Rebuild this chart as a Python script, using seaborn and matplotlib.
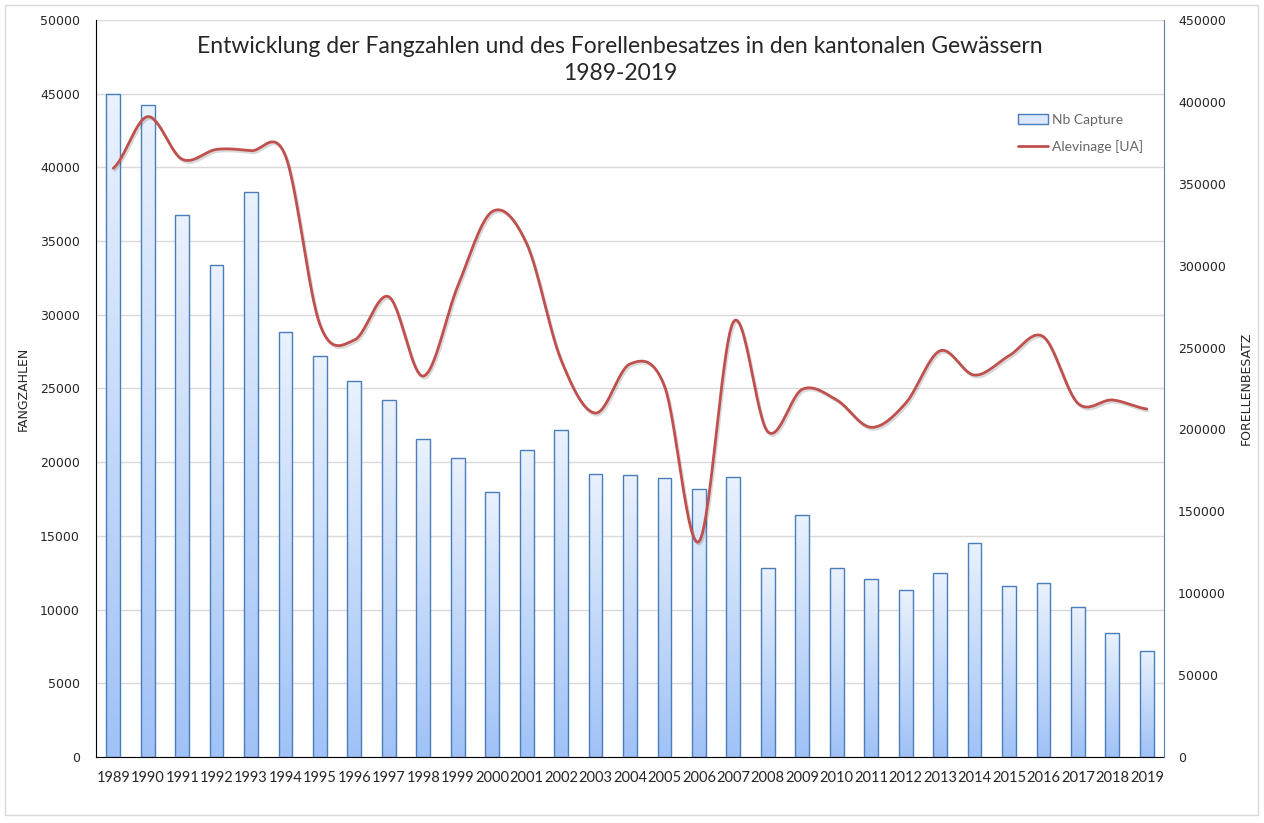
import seaborn as sns
import matplotlib.pyplot as plt
import matplotlib.patheffects as pe
from matplotlib.patches import Patch, Rectangle
from matplotlib.lines import Line2D
import numpy as np
import pandas as pd

years = [str(y) for y in range(1989, 2020)]
nb_capture = [45000, 44200, 36750, 33400, 38350, 28850, 27200, 25500, 24200, 21550,
              20300, 18000, 20850, 22200, 19200, 19100, 18900, 18150, 19000, 12800,
              16450, 12800, 12050, 11300, 12450, 14550, 11600, 11800, 10150, 8400, 7200]
alevinage = [359500, 391000, 365000, 371000, 370200, 367000, 264000, 254600, 281000, 232600,
             287500, 333000, 313500, 242400, 210000, 240000, 226500, 131500, 265600, 198600,
             224500, 218000, 201300, 216000, 248000, 233200, 245000, 256600, 216000, 218000, 212500]

df = pd.DataFrame({'Jahr': years, 'Nb Capture': nb_capture, 'Alevinage [UA]': alevinage})

sns.set_style('white')
plt.rcParams['font.family'] = ['DejaVu Sans']

fig = plt.figure(figsize=(12.64, 8.23), dpi=100)
ax = fig.add_axes([96 / 1264, 1 - 757 / 823, (1164 - 96) / 1264, (757 - 20) / 823])

# bars
sns.barplot(data=df, x='Jahr', y='Nb Capture', ax=ax, width=0.4, color='#DCE8FB',
            edgecolor='#4A7EBB', linewidth=1.0, zorder=3)
ax.set_ylim(0, 50000)
ax.set_xlim(-0.5, 30.5)
ax.set_yticks(range(0, 50001, 5000))
ax.grid(axis='y', color='#D9D9D9', linewidth=1.0, zorder=0)
ax.set_axisbelow(True)

# per-bar vertical gradient (light top -> blue bottom)
grad = np.linspace(0, 1, 256).reshape(-1, 1)
cmap = sns.blend_palette(['#A0C2F7', '#EAF2FD'], as_cmap=True)
for p in ax.patches:
    x0, y0 = p.get_x(), p.get_y()
    w, h = p.get_width(), p.get_height()
    im = ax.imshow(grad, extent=[x0, x0 + w, y0, y0 + h], origin='lower', cmap=cmap,
                   aspect='auto', zorder=2.5)
    im.set_clip_path(p)
    p.set_facecolor('none')
ax.set_xlim(-0.5, 30.5)
ax.set_ylim(0, 50000)

ax.set_xlabel('')
ax.set_ylabel('FANGZAHLEN', fontsize=9)
ax.yaxis.set_label_coords((30 - 96) / 1068, 0.5)
ax.tick_params(axis='y', length=0, labelsize=9, pad=11.5)
ax.tick_params(axis='x', length=0, pad=10)
for lab in ax.get_xticklabels():
    lab.set_fontfamily('Lato')
    lab.set_fontsize(10.5)
for s in ['top', 'right']:
    ax.spines[s].set_visible(False)
ax.spines['left'].set_color('black')
ax.spines['bottom'].set_color('black')

# smoothed line on second axis
ax2 = ax.twinx()
y = np.array(alevinage, dtype=float)
ypad = np.concatenate([[y[0]], y, [y[-1]]])
xs, ys = [], []
t = np.linspace(0, 1, 30)
for i in range(len(y) - 1):
    p0, p1, p2, p3 = ypad[i], ypad[i + 1], ypad[i + 2], ypad[i + 3]
    c1 = p1 + (p2 - p0) / 6
    c2 = p2 - (p3 - p1) / 6
    b = (1 - t) ** 3 * p1 + 3 * (1 - t) ** 2 * t * c1 + 3 * (1 - t) * t ** 2 * c2 + t ** 3 * p2
    xs.extend(i + t)
    ys.extend(b)
sns.lineplot(x=xs, y=ys, ax=ax2, color='#C0504D', linewidth=2.0, sort=False,
             path_effects=[pe.SimpleLineShadow(offset=(1, -1.5), alpha=0.15), pe.Normal()])
ax2.set_ylim(0, 450000)
ax2.set_yticks(range(0, 450001, 50000))
ax2.set_xlim(-0.5, 30.5)
ax2.tick_params(axis='y', length=0, labelsize=9, pad=10)
ax2.set_ylabel('FORELLENBESATZ', fontsize=9)
ax2.yaxis.set_label_coords((1240 - 96) / 1068, 0.5)
ax2.grid(False)
for s in ['top', 'left', 'bottom']:
    ax2.spines[s].set_visible(False)
ax2.spines['right'].set_color('#5B7FA8')

ax.set_title('Entwicklung der Fangzahlen und des Forellenbesatzes in den kantonalen Gewässern\n1989-2019',
             fontfamily='Lato', fontsize=16.5, x=0.5 - 10 / 1068, y=0.907, linespacing=1.35)

handles = [Patch(facecolor='#DCE8FB', edgecolor='#4A7EBB', linewidth=1.0),
           Line2D([0], [0], color='#C0504D', linewidth=2.0)]
leg = fig.legend(handles, ['Nb Capture', 'Alevinage [UA]'], loc='upper left',
                 bbox_to_anchor=(1005 / 1264, 1 - 101 / 823), frameon=False,
                 prop={'family': 'Lato', 'size': 10}, labelspacing=1.05,
                 handlelength=2.2, handletextpad=0.3)
for txt in leg.get_texts():
    txt.set_color('#666666')

fig.patches.append(Rectangle((5 / 1264, 8 / 823), 1253 / 1264, 810 / 823,
                             transform=fig.transFigure, fill=False,
                             edgecolor='#D9D9D9', linewidth=1.0))

plt.savefig('out.png', dpi=100)
